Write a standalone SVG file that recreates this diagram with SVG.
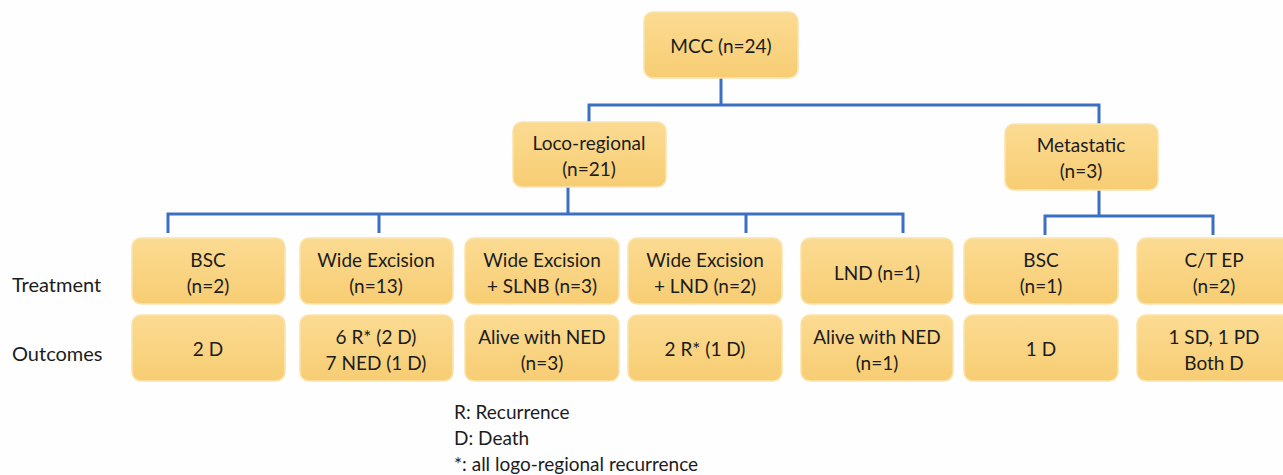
<svg xmlns="http://www.w3.org/2000/svg" width="1283" height="475" viewBox="0 0 1283 475">
<defs>
<linearGradient id="g" x1="0" y1="0" x2="0" y2="1">
<stop offset="0" stop-color="#fbdb92"/>
<stop offset="1" stop-color="#f7cd73"/>
</linearGradient>
<style>
.box{fill:url(#g);stroke:#fae3ad;stroke-width:1.5}
.t{font-family:Lato,"Liberation Sans",sans-serif;font-size:19px;fill:#1c1c1c;text-anchor:middle}
.l{font-family:Lato,"Liberation Sans",sans-serif;font-size:20px;fill:#1c1c1c}
.g{font-family:Lato,"Liberation Sans",sans-serif;font-size:19px;fill:#1c1c1c}
.c{fill:none;stroke:#3b6fc1;stroke-width:3}
</style>
</defs>
<rect width="1283" height="475" fill="#fefefe"/>
<g id="connectors">
<path class="c" d="M721 78V105M589 122V105H1099V124"/>
<path class="c" d="M568 187V214M168 233V214H903V233M379 214V233M746 214V233"/>
<path class="c" d="M1099 190V216M1045 235V216H1213V235"/>
</g>
<g id="mcc"><rect class="box" x="644" y="12" width="154" height="66" rx="9"/><text class="t" x="721" y="53">MCC (n=24)</text></g>
<g id="loco"><rect class="box" x="513" y="122" width="153" height="65" rx="9"/><text class="t" x="589" y="150">Loco-regional</text><text class="t" x="589" y="176">(n=21)</text></g>
<g id="meta"><rect class="box" x="1005" y="124" width="153" height="66" rx="9"/><text class="t" x="1081" y="152">Metastatic</text><text class="t" x="1081" y="178">(n=3)</text></g>
<g id="label-treatment"><text class="l" x="12" y="292">Treatment</text></g>
<g id="label-outcomes"><text class="l" x="12" y="361">Outcomes</text></g>
<g id="t1"><rect class="box" x="132" y="238" width="153" height="66" rx="9"/><text class="t" x="208" y="267">BSC</text><text class="t" x="208" y="293">(n=2)</text></g>
<g id="t2"><rect class="box" x="300" y="238" width="153" height="66" rx="9"/><text class="t" x="376" y="267">Wide Excision</text><text class="t" x="376" y="293">(n=13)</text></g>
<g id="t3"><rect class="box" x="465" y="238" width="154" height="66" rx="9"/><text class="t" x="542" y="267">Wide Excision</text><text class="t" x="542" y="293">+ SLNB (n=3)</text></g>
<g id="t4"><rect class="box" x="628" y="238" width="154" height="66" rx="9"/><text class="t" x="705" y="267">Wide Excision</text><text class="t" x="705" y="293">+ LND (n=2)</text></g>
<g id="t5"><rect class="box" x="801" y="238" width="152" height="66" rx="9"/><text class="t" x="877" y="280">LND (n=1)</text></g>
<g id="t6"><rect class="box" x="964" y="238" width="154" height="66" rx="9"/><text class="t" x="1041" y="267">BSC</text><text class="t" x="1041" y="293">(n=1)</text></g>
<g id="t7"><rect class="box" x="1137" y="238" width="154" height="66" rx="9"/><text class="t" x="1214" y="267">C/T EP</text><text class="t" x="1214" y="293">(n=2)</text></g>
<g id="o1"><rect class="box" x="132" y="315" width="153" height="66" rx="9"/><text class="t" x="208" y="356">2 D</text></g>
<g id="o2"><rect class="box" x="300" y="315" width="153" height="66" rx="9"/><text class="t" x="376" y="344">6 R* (2 D)</text><text class="t" x="376" y="370">7 NED (1 D)</text></g>
<g id="o3"><rect class="box" x="465" y="315" width="154" height="66" rx="9"/><text class="t" x="542" y="344">Alive with NED</text><text class="t" x="542" y="370">(n=3)</text></g>
<g id="o4"><rect class="box" x="628" y="315" width="154" height="66" rx="9"/><text class="t" x="705" y="356">2 R* (1 D)</text></g>
<g id="o5"><rect class="box" x="801" y="315" width="152" height="66" rx="9"/><text class="t" x="877" y="344">Alive with NED</text><text class="t" x="877" y="370">(n=1)</text></g>
<g id="o6"><rect class="box" x="964" y="315" width="154" height="66" rx="9"/><text class="t" x="1041" y="356">1 D</text></g>
<g id="o7"><rect class="box" x="1137" y="315" width="154" height="66" rx="9"/><text class="t" x="1214" y="344">1 SD, 1 PD</text><text class="t" x="1214" y="370">Both D</text></g>
<g id="legend">
<text class="g" x="454" y="419">R: Recurrence</text>
<text class="g" x="454" y="445">D: Death</text>
<text class="g" x="454" y="471">*: all logo-regional recurrence</text>
</g>
</svg>
